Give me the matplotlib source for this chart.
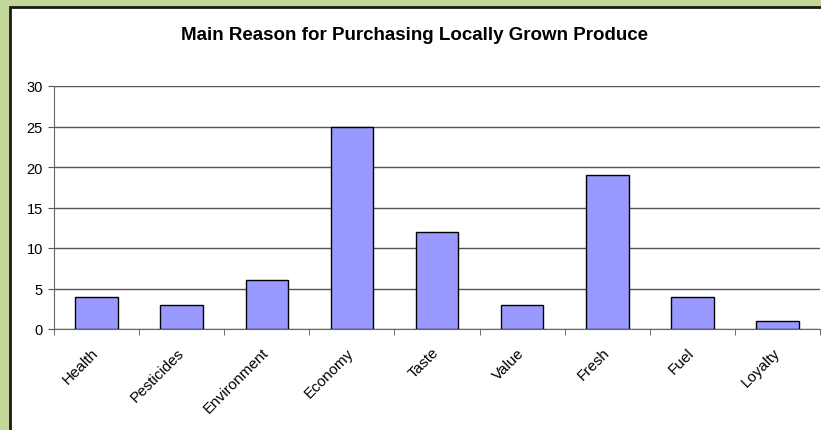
import numpy as np
import matplotlib.pyplot as plt
from matplotlib.patches import Rectangle
from matplotlib.transforms import ScaledTranslation

reasons = ['Health', 'Pesticides', 'Environment', 'Economy', 'Taste',
           'Value', 'Fresh', 'Fuel', 'Loyalty']
counts = [4, 3, 6, 25, 12, 3, 19, 4, 1]
y_ticks = [0, 5, 10, 15, 20, 25, 30]

plt.rcParams['font.family'] = ['Liberation Sans', 'DejaVu Sans']

fig = plt.figure(figsize=(8.21, 4.31), dpi=100)
fig.patch.set_facecolor('#c4d79b')

# white chart panel with dark border (cropped at right/bottom)
panel = Rectangle((10 / 821, -0.1), 1.2, 1 - 8 / 431 + 0.1, transform=fig.transFigure,
                  facecolor='white', edgecolor='#1a1a1a', linewidth=2, zorder=-1)
fig.patches.append(panel)

ax = fig.add_axes([54 / 821, 1 - 330 / 431, (820 - 54) / 821, (330 - 87) / 431])
ax.set_facecolor('none')

x = np.arange(len(reasons))
ax.bar(x, counts, width=0.5, color='#9999ff', edgecolor='black', linewidth=1, zorder=3)

ax.set_xlim(-0.5, len(reasons) - 0.5)
ax.set_ylim(0, 30)
ax.set_yticks(y_ticks)
ax.yaxis.grid(True, color='#555555', linewidth=1)
ax.set_axisbelow(True)

ax.set_xticks(x)
ax.set_xticklabels(reasons, rotation=45, ha='right', va='center',
                   rotation_mode='anchor', fontsize=11)
# nudge the slanted labels a bit to the left
shift = ScaledTranslation(-9 / 100, 0, fig.dpi_scale_trans)
for lbl in ax.get_xticklabels():
    lbl.set_transform(lbl.get_transform() + shift)
ax.set_xticks(np.arange(len(reasons) + 1) - 0.5, minor=True)
ax.tick_params(axis='x', which='major', length=0, pad=15)
ax.tick_params(axis='x', which='minor', length=4, color='#555555', direction='out')
ax.tick_params(axis='y', length=4, color='#555555', labelsize=10.5, pad=4)

for s in ['top', 'right']:
    ax.spines[s].set_visible(False)
for s in ['left', 'bottom']:
    ax.spines[s].set_color('#666666')

fig.text(414 / 821, 1 - 35 / 431, 'Main Reason for Purchasing Locally Grown Produce',
         ha='center', va='center', fontsize=13.5, fontweight='bold')

fig.savefig('out.png', dpi=100, facecolor=fig.get_facecolor())
